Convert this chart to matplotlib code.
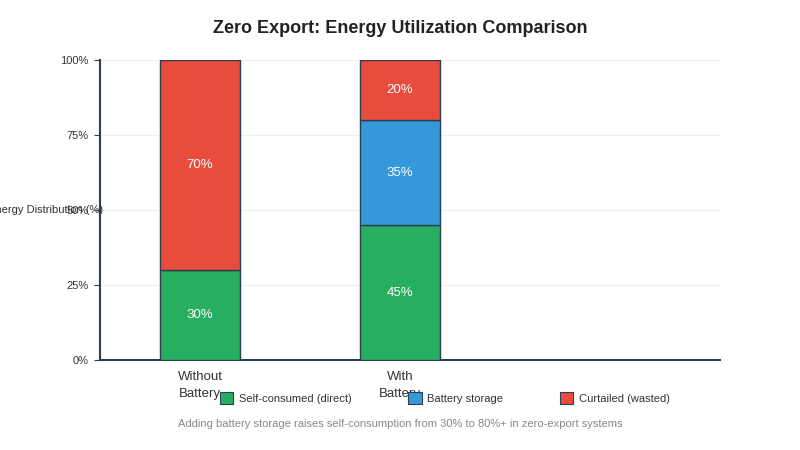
import matplotlib.pyplot as plt
from matplotlib.patches import Patch
import numpy as np

categories = ['Without\nBattery', 'With\nBattery']
self_consumed = [30, 45]
battery_storage = [0, 35]
curtailed = [70, 20]
series_names = ['Self-consumed (direct)', 'Battery storage', 'Curtailed (wasted)']
colors = ['#27ae60', '#3498db', '#e74c3c']
edge = '#2c3e50'

plt.rcParams['font.family'] = ['Liberation Sans', 'DejaVu Sans']

fig = plt.figure(figsize=(8, 4.5), dpi=100)
ax = fig.add_axes([100 / 800, 90 / 450, 620 / 800, 300 / 450])

x = np.arange(len(categories))
w = 0.4
bottoms = np.zeros(len(categories))
for vals, col in zip([self_consumed, battery_storage, curtailed], colors):
    vals = np.array(vals, dtype=float)
    mask = vals > 0
    ax.bar(x[mask], vals[mask], w, bottom=bottoms[mask], color=col,
           edgecolor=edge, linewidth=1, zorder=3)
    for xi, v, b in zip(x[mask], vals[mask], bottoms[mask]):
        ax.text(xi, b + v / 2, '%d%%' % v, ha='center', va='center',
                color='white', fontsize=9.5, zorder=4)
    bottoms += vals

ax.set_xlim(-0.5, 2.6)
ax.set_ylim(0, 100)
ax.set_yticks([0, 25, 50, 75, 100])
ax.set_yticklabels(['0%', '25%', '50%', '75%', '100%'], fontsize=8, color='#333333')
ax.set_xticks(x)
ax.set_xticklabels(categories, fontsize=9.5, color='#333333', linespacing=1.5)
ax.tick_params(axis='x', length=0, pad=8)
ax.tick_params(axis='y', length=4, color='#2c3e50', pad=4)
ax.grid(axis='y', color='#eeeeee', linewidth=0.8, zorder=0)
for s in ['top', 'right']:
    ax.spines[s].set_visible(False)
for s in ['left', 'bottom']:
    ax.spines[s].set_color('#2c3e50')
    ax.spines[s].set_linewidth(1.5)

fig.text(103 / 800, 1 - 210 / 450, 'Energy Distribution (%)', ha='right', va='center',
         fontsize=8, color='#333333')

fig.suptitle('Zero Export: Energy Utilization Comparison', y=1 - 20 / 450,
             fontsize=13, fontweight='bold', color='#222222')

handles = [Patch(facecolor=c, edgecolor=edge, linewidth=0.8) for c in colors]
fig.legend(handles, series_names, loc='center', bbox_to_anchor=(445 / 800, 1 - 398 / 450),
           ncol=3, frameon=False, fontsize=8, handlelength=1.2, handleheight=1.2,
           columnspacing=5.1, handletextpad=0.5, labelcolor='#333333')

fig.text(400 / 800, 1 - 424 / 450,
         'Adding battery storage raises self-consumption from 30% to 80%+ in zero-export systems',
         ha='center', va='center', fontsize=8, color='#888888')

fig.savefig('out.png', dpi=100)
